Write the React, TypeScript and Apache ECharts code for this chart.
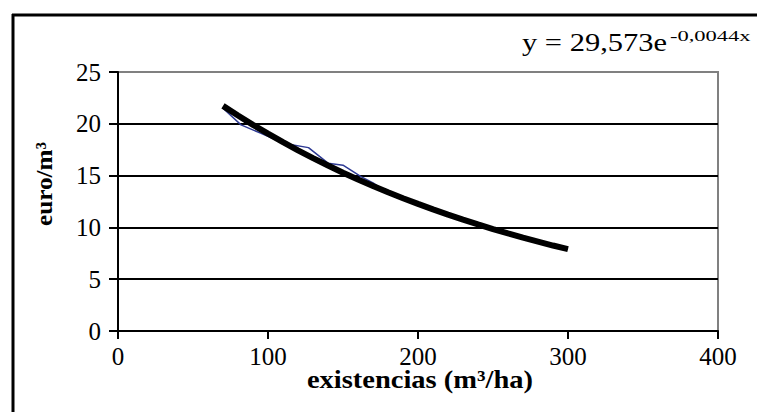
import React, { useEffect, useRef } from "react";
import * as echarts from "echarts";

// Axis ticks
const xTicks = [0, 100, 200, 300, 400];
const yTicks = [0, 5, 10, 15, 20, 25];

// Observed prices (thin blue line)
const observedX = [70, 82, 95, 111, 127, 140, 150, 162, 170, 180, 200, 225, 250, 275, 300];
const observedY = [21.5, 19.9, 19.1, 18.1, 17.7, 16.2, 16.0, 14.9, 14.3, 13.3, 12.1, 10.9, 9.8, 8.8, 7.9];

// Exponential trend line (thick black line)
const trendX = [70, 80, 90, 100, 110, 120, 130, 140, 150, 160, 170, 180, 190, 200, 210, 220, 230, 240, 250, 260, 270, 280, 290, 300];
const trendY = [21.73, 20.8, 19.9, 19.05, 18.23, 17.44, 16.69, 15.97, 15.28, 14.63, 14.0, 13.39, 12.82, 12.27, 11.74, 11.23, 10.75, 10.29, 9.84, 9.42, 9.01, 8.63, 8.25, 7.9];

const equationMain = "y = 29,573e";
const equationExp = "-0,0044x";
const xTitle = "existencias (m³/ha)";
const yTitle = "euro/m³";

const SERIF = "Liberation Serif";

export default function App() {
  const ref = useRef<HTMLDivElement>(null);

  useEffect(() => {
    if (!ref.current) return;
    const chart = echarts.init(ref.current, undefined, { renderer: "svg" });
    const observed = observedX.map((x, i) => [x, observedY[i]]);
    const trend = trendX.map((x, i) => [x, trendY[i]]);

    chart.setOption({
      animation: false,
      backgroundColor: "#ffffff",
      textStyle: { fontFamily: SERIF },
      grid: {
        left: 118,
        top: 72,
        right: 39,
        bottom: 81,
        show: true,
        borderColor: "#808080",
        borderWidth: 2,
        backgroundColor: "#ffffff",
      },
      xAxis: {
        type: "value",
        min: xTicks[0],
        max: xTicks[xTicks.length - 1],
        interval: xTicks[1] - xTicks[0],
        axisLine: { show: true, onZero: false, lineStyle: { color: "#000", width: 2 } },
        axisTick: { show: true, length: 8, lineStyle: { color: "#000", width: 2 } },
        splitLine: { show: false },
        axisLabel: { color: "#000", fontFamily: SERIF, fontSize: 25, margin: 13 },
      },
      yAxis: {
        type: "value",
        min: yTicks[0],
        max: yTicks[yTicks.length - 1],
        interval: yTicks[1] - yTicks[0],
        axisLine: { show: true, onZero: false, lineStyle: { color: "#000", width: 2 } },
        axisTick: { show: true, length: 9, lineStyle: { color: "#000", width: 2 } },
        splitLine: { show: true, showMaxLine: false, lineStyle: { color: "#000", width: 2 } },
        axisLabel: { color: "#000", fontFamily: SERIF, fontSize: 25, margin: 17 },
      },
      series: [
        {
          type: "line",
          data: observed,
          showSymbol: false,
          lineStyle: { color: "#2e3a94", width: 1.5 },
          z: 2,
        },
        {
          type: "line",
          data: trend,
          showSymbol: false,
          lineStyle: { color: "#000000", width: 6, cap: "butt" },
          z: 3,
        },
      ],
      graphic: [
        { type: "line", shape: { x1: 13, y1: 14, x2: 13, y2: 412 }, style: { stroke: "#000", lineWidth: 3 } },
        { type: "line", shape: { x1: 12, y1: 15, x2: 757, y2: 15 }, style: { stroke: "#000", lineWidth: 3 } },
        {
          type: "text",
          x: 522,
          y: 42,
          scaleX: 1.22,
          style: {
            text: equationMain,
            fontFamily: SERIF,
            fontSize: 25,
            fill: "#000",
            align: "left",
            verticalAlign: "middle",
          },
        },
        {
          type: "text",
          x: 670,
          y: 36,
          scaleX: 1.5,
          style: {
            text: equationExp,
            fontFamily: SERIF,
            fontSize: 15,
            fill: "#000",
            align: "left",
            verticalAlign: "middle",
          },
        },
        {
          type: "text",
          x: 420,
          y: 380,
          scaleX: 1.14,
          style: {
            text: xTitle,
            fontFamily: SERIF,
            fontSize: 25,
            fontWeight: "bold",
            fill: "#000",
            align: "center",
            verticalAlign: "middle",
          },
        },
        {
          type: "text",
          x: 44,
          y: 184,
          rotation: Math.PI / 2,
          scaleX: 1.05,
          style: {
            text: yTitle,
            fontFamily: SERIF,
            fontSize: 24,
            fontWeight: "bold",
            fill: "#000",
            align: "center",
            verticalAlign: "middle",
          },
        },
      ],
    });

    return () => chart.dispose();
  }, []);

  return (
    <div
      ref={ref}
      style={{ position: "fixed", left: 0, top: 0, width: 757, height: 412 }}
    />
  );
}
